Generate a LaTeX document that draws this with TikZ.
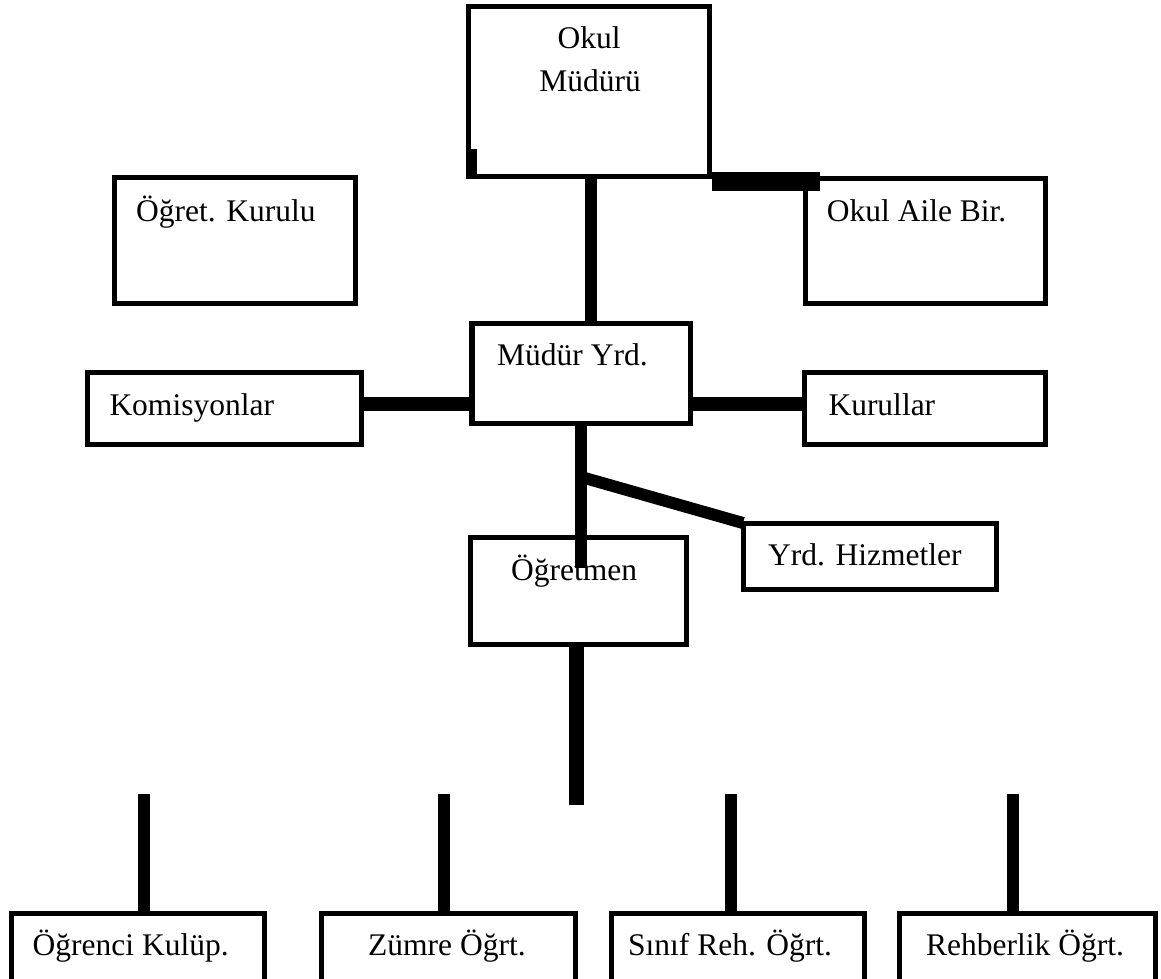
\documentclass[tikz,border=0pt]{standalone}
\usepackage{fontspec}
\setmainfont{Liberation Serif}
\begin{document}
\begin{tikzpicture}[x=1pt,y=-1pt,
  box/.style={draw, line width=5pt, rectangle, inner sep=0pt, outer sep=0pt, anchor=north west},
  lbl/.style={inner sep=0pt, anchor=base west, font=\fontsize{31.5}{36}\selectfont},
  conn/.style={line width=12pt},
  bar/.style={line width=14pt}]
\clip (0,0) rectangle (1161,978);
\fill[white] (0,0) rectangle (1161,978);

% boxes
\node[box, minimum width=240.5pt, minimum height=170pt] (om) at (468.5,6.5) {};
\node[box, minimum width=241pt, minimum height=126pt] (ok) at (114,177.5) {};
\node[box, minimum width=240.5pt, minimum height=124.5pt] (oab) at (805,178.5) {};
\node[box, minimum width=217.5pt, minimum height=100.5pt] (my) at (472.5,323) {};
\node[box, minimum width=274pt, minimum height=72.3pt] (kom) at (87,372.5) {};
\node[box, minimum width=240.5pt, minimum height=72.3pt] (kur) at (804.7,372.5) {};
\node[box, minimum width=216pt, minimum height=106.5pt] (ogm) at (470,537.5) {};
\node[box, minimum width=253pt, minimum height=66pt] (yh) at (743,523) {};
\node[box, minimum width=253pt, minimum height=90pt] (b1) at (11,913.3) {};
\node[box, minimum width=254pt, minimum height=90pt] (b2) at (321.5,913.3) {};
\node[box, minimum width=252.5pt, minimum height=90pt] (b3) at (611.5,913.3) {};
\node[box, minimum width=256pt, minimum height=90pt] (b4) at (899,913.3) {};

% connectors
\draw[conn] ([xshift=2.25pt]om.south) -- ([xshift=2.25pt]om.south |- my.north);
\draw[line width=19pt] ([shift={(3,5)}]om.south east) -- ([shift={(15,3)}]oab.north west);
\fill ([shift={(-2.5,-27.2)}]om.south west) rectangle ([shift={(8.8,1.5)}]om.south west);
\fill ([shift={(-3.5,-2.5)}]my.north west) rectangle ([shift={(2,2.5)}]my.south west);
\draw[bar] ([yshift=5pt]kom.east) -- ([yshift=5pt]kom.east -| my.west);
\draw[bar] ([yshift=5pt]kur.west) -- ([yshift=5pt]kur.west -| my.east);
\draw[conn] (my.south) -- ([yshift=-30.5pt]my.south |- ogm.north);
\draw[conn] ([shift={(1.75,54)}]my.south) -- (yh.north west);
\coordinate (hub) at (576.5,805);
\draw[line width=15pt] ([xshift=-1.5pt]ogm.south) -- ([xshift=-1.5pt]ogm.south |- hub);
\coordinate (s1) at (144,794);
\coordinate (s2) at (443.5,794);
\coordinate (s3) at (731,794);
\coordinate (s4) at (1013,794);
\draw[conn] (s1) -- (s1 |- b1.north);
\draw[conn] (s2) -- (s2 |- b2.north);
\draw[conn] (s3) -- (s3 |- b3.north);
\draw[conn] (s4) -- (s4 |- b4.north);

% texts
\node[lbl, anchor=base] (t1) at (589,48) {Okul};
\node[lbl, anchor=base] (t2) at (590,91) {Müdürü};
\node[lbl] (t3) at (136,221) {Öğret. Kurulu};
\node[lbl] (t4) at (826.7,221.7) {Okul Aile Bir.};
\node[lbl] (t5) at (497,365) {Müdür Yrd.};
\node[lbl] (t6) at (109.3,415) {Komisyonlar};
\node[lbl] (t7) at (828.3,415) {Kurullar};
\node[lbl] (t8) at (511,580) {Öğretmen};
\node[lbl] (t9) at (768,565) {Yrd. Hizmetler};
\node[lbl] (t10) at (32.5,955) {Öğrenci Kulüp.};
\node[lbl] (t11) at (368,955) {Zümre Öğrt.};
\node[lbl] (t12) at (628,955) {Sınıf Reh. Öğrt.};
\node[lbl] (t13) at (926,955) {Rehberlik Öğrt.};
\end{tikzpicture}
\end{document}
